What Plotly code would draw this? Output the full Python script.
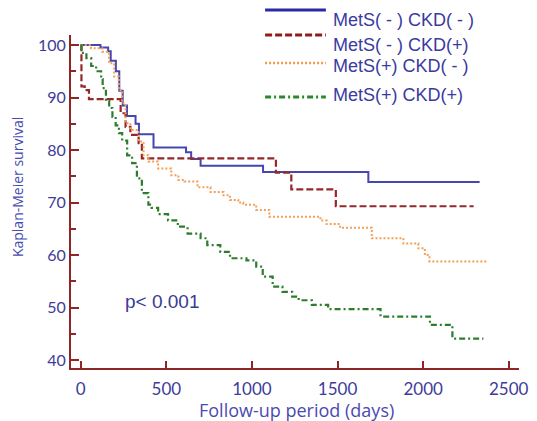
import plotly.graph_objects as go

# Kaplan-Meier step curves: time in days, survival in %
blue_days = [0, 115, 160, 175, 205, 225, 245, 270, 320, 340, 425, 615, 645, 700, 1065, 1680, 2330]
blue_surv = [100, 99.5, 98.8, 97.0, 95.0, 91.3, 88.5, 86.5, 85.0, 83.0, 80.5, 79.6, 78.3, 77.0, 75.8, 73.9, 73.9]

red_days = [0, 4, 23, 48, 233, 262, 290, 338, 357, 1140, 1230, 1490, 2295]
red_surv = [100, 92.1, 91.4, 89.7, 87.0, 84.4, 82.9, 81.3, 78.4, 75.7, 72.5, 69.3, 69.3]

orange_days = [0, 60, 125, 165, 195, 222, 242, 262, 290, 338, 367, 395, 452, 529, 570, 605,
               682, 758, 834, 872, 920, 949, 1025, 1101, 1400, 1436, 1515, 1700, 1885, 1972,
               2010, 2037, 2371]
orange_surv = [100, 99.4, 98.7, 96.5, 94.0, 91.4, 88.9, 85.1, 83.8, 81.6, 79.0, 77.8, 76.5, 75.2, 74.3, 74.0,
               72.9, 72.0, 71.4, 70.5, 70.0, 69.6, 68.6, 67.3, 66.6, 65.9, 65.2, 63.2, 62.2, 61.3,
               60.0, 58.8, 58.8]

green_days = [0, 4, 33, 61, 90, 119, 128, 147, 166, 185, 204, 223, 242, 271, 300, 328, 357, 395,
              414, 452, 510, 567, 624, 700, 739, 815, 872, 968, 1025, 1063, 1121, 1178, 1235,
              1273, 1350, 1445, 1751, 2040, 2171, 2352]
green_surv = [100, 98.5, 97.5, 96.0, 95.0, 93.5, 91.8, 89.3, 88.0, 86.3, 84.7, 83.2, 81.8, 79.0, 77.5,
              74.6, 71.8, 69.6, 69.0, 67.8, 66.6, 65.4, 64.1, 63.2, 61.9, 60.6, 59.4, 59.0, 57.8,
              55.9, 54.0, 53.0, 52.1, 51.4, 50.5, 49.7, 48.3, 46.7, 44.1, 44.1]

group_names = ["MetS( - ) CKD( - )", "MetS( - ) CKD(+)", "MetS(+) CKD( - )", "MetS(+) CKD(+)"]
y_ticks = [40, 50, 60, 70, 80, 90, 100]
x_ticks = [0, 500, 1000, 1500, 2000, 2500]
p_label = "p< 0.001"
x_title = "Follow-up period (days)"
y_title = "Kaplan-Meier survival"

W, H = 537, 421
L, R, T, B = 71, 528, 35, 368   # plot area in pixels

AXIS = "#8e2626"
TICKTXT = "#3d3d98"
TITLETXT = "#4a4ab0"

styles = [
    dict(color="#4646b0", width=2, dash="solid"),
    dict(color="#952828", width=2.2, dash="7px,3px"),
    dict(color="#f2a05a", width=2, dash="2px,2px"),
    dict(color="#2e7d2e", width=2.2, dash="6px,3px,2px,3px"),
]
legend_styles = [
    dict(color="#2a2aa4", width=3, dash="solid"),
    dict(color="#8e1c1c", width=3, dash="7px,3px"),
    dict(color="#f29a48", width=2.5, dash="2px,2px"),
    dict(color="#2a8a2a", width=3, dash="6px,3px,2px,3px"),
]

series = [(blue_days, blue_surv), (red_days, red_surv),
          (orange_days, orange_surv), (green_days, green_surv)]

fig = go.Figure()
for (d, s), st, name in zip(series, styles, group_names):
    fig.add_trace(go.Scatter(x=d, y=s, mode="lines", line=dict(shape="hv", **st),
                             name=name, showlegend=False))


def px_x(p):
    return (p - L) / (R - L)


def px_y(p):
    return (B - p) / (B - T)


# hand-placed legend: sample line + label per group
legend_line_y = [10, 35, 63, 97]
legend_text_y = [20, 45, 66, 95]
for name, st, ly, ty in zip(group_names, legend_styles, legend_line_y, legend_text_y):
    fig.add_shape(type="line", xref="paper", yref="paper",
                  x0=px_x(269), x1=px_x(331), y0=px_y(ly), y1=px_y(ly),
                  line=st)
    fig.add_annotation(xref="paper", yref="paper", x=px_x(336), y=px_y(ty),
                       xanchor="left", yanchor="middle", text=name, showarrow=False,
                       font=dict(family="Liberation Sans, Arial", size=18, color="#3a3aa0"))

fig.add_annotation(x=480, y=51.2, text=p_label, showarrow=False,
                   font=dict(family="Liberation Sans, Arial", size=19, color="#3a3a96"))

# axis titles
fig.add_annotation(xref="paper", yref="paper", x=px_x(301), y=px_y(410),
                   text=x_title, showarrow=False, xanchor="center", yanchor="middle",
                   font=dict(family="Open Sans", size=18, color=TITLETXT))
fig.add_annotation(xref="paper", yref="paper", x=px_x(16), y=px_y(187),
                   text=y_title, showarrow=False, textangle=-90,
                   xanchor="center", yanchor="middle",
                   font=dict(family="Open Sans", size=14, color=TITLETXT))

fig.update_layout(
    width=W, height=H,
    margin=dict(l=L, r=W - R, t=T, b=H - B),
    plot_bgcolor="white", paper_bgcolor="white",
    font=dict(family="Lato"),
)
fig.update_xaxes(range=[-57, 2560], tickvals=x_ticks, ticks="inside", ticklen=7,
                 tickwidth=2, tickcolor=AXIS, showline=True, linecolor=AXIS, linewidth=2,
                 showgrid=False, zeroline=False, ticklabelstandoff=5,
                 ticklabeloverflow="allow",
                 tickfont=dict(family="Lato", size=17, color=TICKTXT))
fig.update_yaxes(range=[38.5, 101.9], tickvals=y_ticks, ticks="inside", ticklen=8,
                 tickwidth=2, tickcolor=AXIS, showline=True, linecolor=AXIS, linewidth=2,
                 showgrid=False, zeroline=False,
                 minor=dict(dtick=5, ticks="inside", ticklen=5, tickwidth=2, tickcolor=AXIS),
                 tickfont=dict(family="Lato", size=16, color=TICKTXT))

fig.write_html("out.html")
